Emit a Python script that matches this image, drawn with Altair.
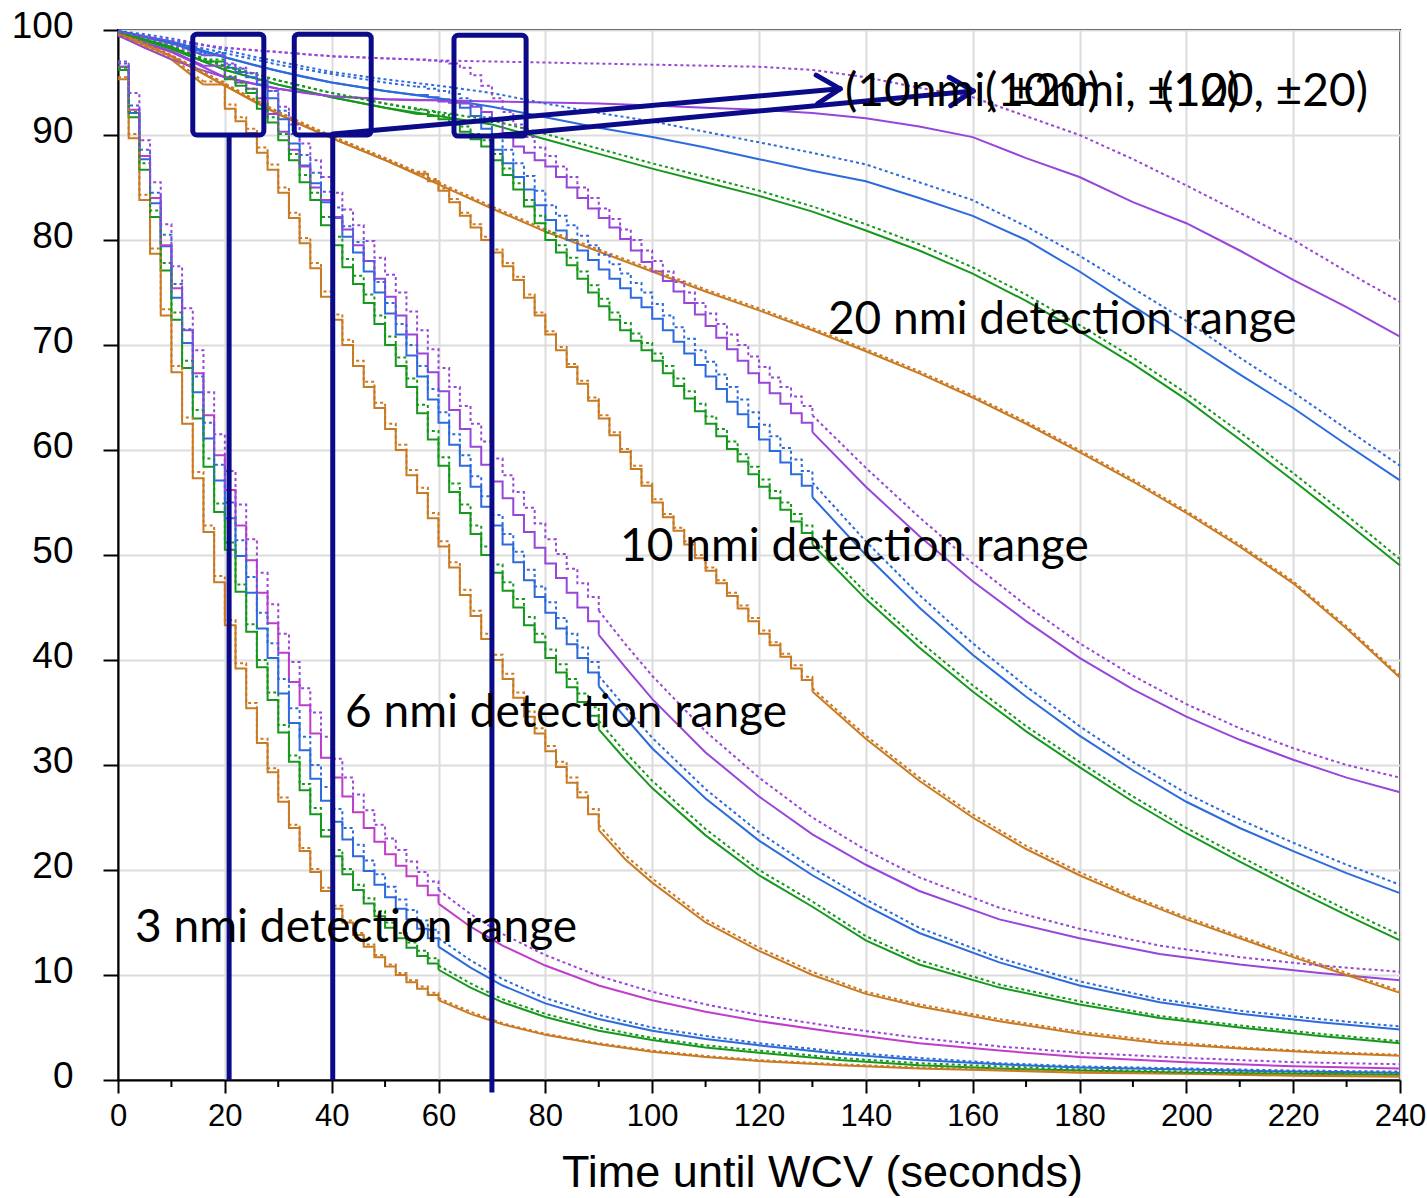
import altair as alt
import pandas as pd

# ---------------------------------------------------------------------------
# Survival curves: percent of encounters still free of WCV versus time,
# for four detection ranges, four colours (surveillance variants),
# each as a solid and a dotted series.
# ---------------------------------------------------------------------------

ORANGE = "#c97a22"
GREEN = "#16981c"
BLUE = "#2c6bdb"
PURPLE = "#9845da"
MAGENTA = "#bf3dca"
NAVY = "#0b0b8a"

# ---- 3 nmi detection range -------------------------------------------------
T3 = [0, 2, 4, 6, 8, 10, 12, 14, 16, 18, 20, 22, 24, 26, 28, 30, 32, 34, 36, 38, 40,
      42, 44, 46, 48, 50, 52, 54, 56, 58, 60,
      66, 72, 80, 90, 100, 110, 120, 135, 150, 165, 180, 200, 220, 240]
O3 = [95.3, 89.7, 83.8, 78.7, 72.8, 67.4, 62.5, 57.3, 52.2, 47.4, 43.3, 39.2, 35.4, 32.1, 29.3, 26.5, 24.0, 21.8, 19.8, 18.0, 16.3,
      15.0, 13.8, 12.7, 11.7, 10.8, 10.0, 9.3, 8.7, 8.1, 7.6,
      6.3, 5.3, 4.3, 3.4, 2.7, 2.2, 1.8, 1.4, 1.1, 0.9, 0.7, 0.6, 0.4, 0.3]
O3_DOT = [95.5, 90.1, 84.3, 79.2, 73.4, 68.0, 63.1, 57.9, 52.8, 48.0, 43.8, 39.7, 35.9, 32.5, 29.7, 26.9, 24.3, 22.1, 20.1, 18.3, 16.6,
          15.2, 14.0, 12.9, 11.9, 11.0, 10.2, 9.5, 8.9, 8.3, 7.8,
          6.5, 5.4, 4.4, 3.5, 2.8, 2.3, 1.9, 1.5, 1.2, 1.0, 0.8, 0.6, 0.5, 0.4]
G3 = [96.2, 91.7, 86.7, 82.2, 77.1, 72.4, 67.8, 63.0, 58.4, 54.1, 50.5, 46.5, 42.7, 39.3, 36.2, 33.1, 30.3, 27.6, 25.3, 23.2, 21.3,
      19.6, 18.1, 16.8, 15.6, 14.5, 13.5, 12.6, 11.8, 11.1, 10.5,
      8.8, 7.4, 6.0, 4.7, 3.8, 3.1, 2.6, 1.9, 1.4, 1.1, 0.9, 0.7, 0.6, 0.5]
G3_DOT = [96.4, 92.2, 87.3, 82.8, 77.8, 73.1, 68.5, 63.8, 59.2, 54.9, 51.2, 47.2, 43.4, 40.0, 36.9, 33.8, 30.9, 28.2, 25.9, 23.8, 21.9,
          20.1, 18.6, 17.3, 16.1, 15.0, 14.0, 13.1, 12.3, 11.6, 10.9,
          9.2, 7.7, 6.3, 5.0, 4.0, 3.3, 2.8, 2.1, 1.6, 1.3, 1.0, 0.8, 0.7, 0.6]
B3 = [96.5, 92.1, 87.7, 83.5, 79.4, 74.5, 70.2, 65.5, 61.1, 57.1, 53.5, 49.9, 46.4, 43.0, 40.2, 36.8, 34.0, 31.4, 28.7, 26.6, 24.6,
      22.9, 21.3, 19.9, 18.6, 17.4, 16.3, 15.3, 14.4, 13.5, 12.7,
      10.7, 9.0, 7.3, 5.8, 4.7, 3.9, 3.3, 2.5, 1.9, 1.5, 1.2, 1.0, 0.8, 0.7]
B3_DOT = [96.8, 92.8, 88.6, 84.5, 80.5, 75.8, 71.5, 67.0, 62.6, 58.6, 55.0, 51.4, 47.9, 44.5, 41.6, 38.2, 35.4, 32.7, 30.0, 27.9, 25.8,
          24.0, 22.4, 20.9, 19.6, 18.4, 17.2, 16.2, 15.2, 14.3, 13.5,
          11.4, 9.6, 7.8, 6.2, 5.0, 4.2, 3.5, 2.7, 2.1, 1.6, 1.3, 1.1, 0.9, 0.8]
P3 = [96.5, 92.4, 88.0, 84.0, 79.5, 75.4, 71.4, 67.3, 63.3, 59.5, 56.2, 52.8, 49.5, 46.4, 43.5, 40.7, 37.9, 35.7, 33.0, 30.7, 28.8,
      27.0, 25.5, 24.0, 22.7, 21.5, 20.4, 19.4, 18.5, 17.6, 16.8,
      14.6, 12.8, 10.9, 9.0, 7.6, 6.5, 5.6, 4.5, 3.5, 2.8, 2.2, 1.7, 1.3, 1.1]
P3_DOT = [97.0, 94.0, 89.5, 85.5, 81.5, 77.5, 73.5, 69.5, 65.5, 61.5, 58.0, 54.8, 51.5, 48.3, 45.3, 42.5, 39.8, 37.3, 35.0, 32.7, 30.6,
          28.8, 27.2, 25.7, 24.3, 23.0, 21.9, 20.8, 19.8, 18.9, 18.1,
          15.8, 13.9, 11.9, 9.9, 8.4, 7.2, 6.2, 5.0, 4.0, 3.2, 2.6, 2.1, 1.7, 1.5]

# ---- 6 nmi detection range -------------------------------------------------
T6 = [0, 10, 16,
      20, 22, 24, 26, 28, 30, 32, 34, 36, 38, 40, 42, 44, 46, 48, 50, 52, 54, 56, 58,
      60, 62, 64, 66, 68, 70, 72, 74, 76, 78, 80, 82, 84, 86, 88, 90,
      95, 100, 110, 120, 130, 140, 150, 165, 180, 195, 210, 225, 240]
O6 = [99.5, 97.2, 94.8,
      92.5, 91.3, 90.2, 88.3, 86.7, 84.5, 82.1, 79.7, 77.3, 74.6, 72.4, 70.0, 68.0, 66.0, 64.0, 62.0, 60.0, 57.6, 55.9, 53.5,
      50.8, 48.8, 46.2, 44.2, 42.0, 40.0, 38.2, 36.4, 34.6, 33.0, 31.3, 29.8, 28.3, 26.9, 25.3, 23.8,
      21.0, 18.8, 15.0, 12.3, 10.0, 8.2, 7.0, 5.6, 4.4, 3.5, 3.0, 2.6, 2.3]
O6_DOT = [99.6, 97.4, 95.1,
          92.9, 91.7, 90.6, 88.8, 87.2, 85.0, 82.6, 80.2, 77.8, 75.1, 72.9, 70.5, 68.5, 66.5, 64.5, 62.5, 60.5, 58.1, 56.4, 54.0,
          51.3, 49.3, 46.7, 44.7, 42.5, 40.5, 38.7, 36.9, 35.1, 33.5, 31.8, 30.3, 28.8, 27.4, 25.8, 24.3,
          21.4, 19.2, 15.3, 12.6, 10.3, 8.4, 7.2, 5.8, 4.6, 3.7, 3.1, 2.7, 2.4]
G6 = [99.8, 98.4, 97.0,
      95.3, 94.7, 94.0, 92.5, 91.2, 89.5, 87.6, 85.5, 83.8, 81.4, 79.5, 77.4, 75.8, 74.0, 72.0, 70.0, 68.0, 66.0, 63.5, 61.0,
      58.5, 56.0, 54.0, 52.0, 50.0, 48.3, 46.6, 45.0, 43.3, 41.7, 40.2, 38.8, 37.4, 36.0, 34.7, 33.4,
      30.5, 27.8, 23.3, 19.5, 16.5, 13.3, 11.0, 8.8, 7.2, 5.9, 5.0, 4.2, 3.5]
G6_DOT = [99.8, 98.5, 97.2,
          95.6, 95.0, 94.4, 93.0, 91.7, 90.1, 88.2, 86.2, 84.5, 82.2, 80.3, 78.2, 76.6, 74.8, 72.8, 70.8, 68.8, 66.8, 64.3, 61.8,
          59.3, 56.8, 54.8, 52.8, 50.8, 49.1, 47.4, 45.8, 44.1, 42.5, 41.0, 39.6, 38.2, 36.8, 35.5, 34.2,
          31.2, 28.5, 23.9, 20.0, 17.0, 13.7, 11.4, 9.1, 7.5, 6.1, 5.2, 4.4, 3.7]
B6 = [99.9, 98.8, 97.6,
      96.4, 96.0, 95.5, 94.8, 93.5, 91.5, 89.2, 87.1, 85.4, 83.6, 82.1, 80.3, 78.8, 77.0, 75.0, 73.0, 71.0, 69.0, 67.0, 64.8,
      62.6, 60.5, 58.5, 56.5, 54.6, 52.8, 51.0, 49.3, 47.6, 46.0, 44.5, 43.0, 41.5, 40.2, 38.8, 37.5,
      34.5, 31.6, 26.8, 22.8, 19.5, 16.6, 14.0, 11.2, 9.0, 7.4, 6.3, 5.5, 4.8]
B6_DOT = [99.9, 98.9, 97.8,
          96.7, 96.3, 95.9, 95.3, 94.2, 92.3, 90.1, 88.1, 86.4, 84.6, 83.1, 81.3, 79.8, 78.0, 76.0, 74.0, 72.0, 70.0, 68.0, 65.8,
          63.6, 61.5, 59.5, 57.5, 55.6, 53.8, 52.0, 50.3, 48.6, 47.0, 45.5, 44.0, 42.5, 41.2, 39.8, 38.5,
          35.5, 32.6, 27.7, 23.6, 20.2, 17.2, 14.5, 11.6, 9.4, 7.7, 6.6, 5.8, 5.1]
P6 = [99.6, 98.0, 96.6,
      95.5, 95.0, 94.4, 93.5, 92.0, 90.3, 88.6, 87.0, 85.0, 83.8, 82.2, 81.0, 79.5, 78.0, 76.3, 74.6, 72.8, 71.0, 69.2, 67.4,
      65.6, 63.8, 62.0, 60.3, 58.6, 57.0, 55.4, 53.8, 52.2, 50.7, 49.2, 47.8, 46.4, 45.0, 43.7, 42.4,
      39.3, 36.3, 31.2, 27.0, 23.4, 20.5, 18.0, 15.3, 13.5, 12.0, 11.0, 10.2, 9.5]
P6_DOT = [99.8, 98.6, 97.6,
          96.8, 96.4, 95.9, 95.2, 94.2, 92.7, 91.0, 89.2, 87.6, 86.0, 84.5, 82.9, 81.4, 79.9, 78.3, 76.7, 75.0, 73.2, 71.4, 69.6,
          67.8, 66.0, 64.2, 62.5, 60.8, 59.2, 57.6, 56.0, 54.5, 53.0, 51.5, 50.1, 48.7, 47.3, 46.0, 44.7,
          41.5, 38.5, 33.2, 28.8, 25.0, 21.9, 19.3, 16.4, 14.4, 12.8, 11.7, 10.9, 10.3]

# ---- 10 nmi detection range ------------------------------------------------
T10 = [0, 10, 20, 30, 40, 50,
       56, 58, 60, 62, 64, 66, 68, 70, 72, 74, 76, 78, 80, 82, 84, 86, 88, 90, 92, 94,
       96, 98, 100, 102, 104, 106, 108, 110, 112, 114, 116, 118, 120, 122, 124, 126, 128, 130,
       140, 150, 160, 170, 180, 190, 200, 210, 220, 230, 240]
O10 = [99.7, 97.5, 94.7, 92.0, 89.7, 87.6,
       86.3, 85.6, 84.7, 83.6, 82.3, 81.2, 80.0, 78.8, 77.5, 76.2, 74.5, 72.8, 71.0, 69.5, 67.9, 66.3, 64.7, 63.0, 61.4, 59.8,
       58.2, 56.6, 55.0, 53.6, 52.3, 51.0, 49.7, 48.5, 47.3, 46.1, 44.9, 43.7, 42.5, 41.4, 40.3, 39.2, 38.1, 37.0,
       32.5, 28.5, 25.0, 22.0, 19.5, 17.3, 15.3, 13.5, 11.7, 10.0, 8.3]
O10_DOT = [99.8, 97.6, 94.9, 92.2, 89.9, 87.8,
           86.5, 85.8, 84.9, 83.9, 82.6, 81.5, 80.3, 79.1, 77.8, 76.5, 74.8, 73.1, 71.3, 69.8, 68.2, 66.6, 65.0, 63.3, 61.7, 60.1,
           58.5, 56.9, 55.3, 53.9, 52.6, 51.3, 50.0, 48.8, 47.6, 46.4, 45.2, 44.0, 42.8, 41.7, 40.6, 39.5, 38.4, 37.3,
           32.8, 28.8, 25.3, 22.3, 19.8, 17.5, 15.5, 13.7, 11.9, 10.2, 8.5]
G10 = [99.8, 98.2, 96.2, 94.8, 93.6, 92.6,
       92.0, 91.8, 91.5, 91.0, 90.3, 89.6, 88.9, 87.6, 86.2, 84.8, 83.2, 81.6, 80.0, 78.8, 77.6, 76.3, 75.0, 73.7, 72.4, 71.4,
       70.4, 69.5, 68.5, 67.3, 66.1, 64.9, 63.7, 62.5, 61.3, 60.1, 58.9, 57.7, 56.5, 55.4, 54.3, 53.2, 52.1, 51.0,
       45.8, 41.2, 37.0, 33.2, 29.8, 26.5, 23.5, 20.8, 18.2, 15.7, 13.3]
G10_DOT = [99.8, 98.3, 96.5, 95.2, 94.0, 93.0,
           92.4, 92.2, 91.9, 91.5, 90.8, 90.1, 89.5, 88.2, 86.8, 85.4, 83.8, 82.3, 80.7, 79.5, 78.3, 77.0, 75.7, 74.4, 73.1, 72.1,
           71.1, 70.2, 69.2, 68.0, 66.8, 65.6, 64.4, 63.2, 62.0, 60.8, 59.6, 58.4, 57.2, 56.1, 55.0, 53.9, 52.8, 51.7,
           46.4, 41.8, 37.6, 33.7, 30.3, 27.0, 24.0, 21.3, 18.7, 16.2, 13.8]
B10 = [99.9, 98.7, 97.4, 96.1, 95.0, 94.2,
       93.8, 93.6, 93.4, 93.1, 92.6, 91.8, 90.6, 88.6, 87.3, 86.0, 84.8, 83.3, 81.9, 80.9, 80.0, 79.0, 78.1, 77.2, 76.3, 75.4,
       74.5, 73.6, 72.5, 71.4, 70.3, 69.2, 68.1, 67.0, 65.8, 64.6, 63.4, 62.2, 61.0, 59.9, 58.8, 57.7, 56.6, 55.5,
       50.0, 45.0, 40.5, 36.5, 32.8, 29.5, 26.5, 24.0, 21.8, 19.7, 17.8]
B10_DOT = [99.9, 98.9, 97.8, 96.7, 95.8, 95.0,
           94.6, 94.4, 94.2, 93.9, 93.5, 92.8, 91.7, 89.9, 88.6, 87.3, 86.1, 84.7, 83.3, 82.3, 81.4, 80.4, 79.5, 78.6, 77.7, 76.8,
           75.9, 75.0, 73.9, 72.8, 71.7, 70.6, 69.5, 68.4, 67.2, 66.0, 64.8, 63.6, 62.4, 61.3, 60.2, 59.1, 58.0, 56.9,
           51.3, 46.2, 41.6, 37.5, 33.7, 30.3, 27.3, 24.8, 22.6, 20.5, 18.6]
P10 = [99.5, 97.9, 95.5, 94.4, 93.7, 93.4,
       93.3, 93.3, 93.2, 93.1, 93.0, 92.7, 92.2, 91.4, 90.2, 88.9, 88.3, 87.6, 87.0, 86.0, 85.0, 84.0, 83.0, 82.1, 81.2, 80.1,
       79.0, 77.9, 77.0, 76.1, 75.1, 74.0, 72.9, 71.8, 70.7, 69.6, 68.5, 67.3, 66.4, 65.4, 64.4, 63.5, 62.6, 61.7,
       56.5, 51.8, 47.5, 43.7, 40.2, 37.2, 34.6, 32.4, 30.5, 28.8, 27.4]
P10_DOT = [99.8, 99.0, 98.3, 97.9, 97.5, 97.3,
           97.2, 97.1, 97.0, 96.8, 96.4, 95.7, 94.7, 93.5, 92.2, 91.0, 89.8, 88.8, 88.0, 87.0, 86.0, 85.0, 84.0, 83.0, 82.0, 81.0,
           80.0, 79.0, 78.0, 77.0, 76.0, 75.0, 74.0, 73.0, 72.0, 71.0, 70.0, 68.9, 67.9, 66.9, 66.0, 65.1, 64.2, 63.3,
           58.3, 53.6, 49.2, 45.2, 41.6, 38.5, 35.8, 33.5, 31.6, 30.0, 28.8]

# ---- 20 nmi detection range ------------------------------------------------
T20 = [0, 5, 10, 15, 20, 25, 30, 35, 40, 50, 60, 70, 80, 90, 100, 110, 120, 130, 140,
       150, 160, 170, 180, 190, 200, 210, 220, 230, 240]
O20 = [99.7, 98.6, 97.5, 96.1, 94.7, 93.3, 92.0, 90.8, 89.7, 87.6, 85.3, 83.0, 80.8, 78.9, 77.0, 75.1, 73.3, 71.4, 69.4,
       67.3, 65.0, 62.5, 59.8, 57.0, 54.0, 50.8, 47.3, 43.0, 38.3]
O20_DOT = [99.8, 98.7, 97.6, 96.3, 94.9, 93.5, 92.2, 91.0, 89.9, 87.8, 85.5, 83.2, 81.0, 79.1, 77.2, 75.3, 73.5, 71.6, 69.6,
           67.5, 65.2, 62.7, 60.0, 57.2, 54.2, 51.0, 47.5, 43.2, 38.5]
G20 = [99.8, 99.0, 98.2, 97.2, 96.2, 95.5, 94.8, 94.2, 93.6, 92.6, 91.8, 91.0, 89.6, 88.2, 86.8, 85.5, 84.2, 82.7, 80.9,
       79.0, 76.8, 74.2, 71.3, 68.2, 64.8, 61.0, 57.1, 53.1, 49.0]
G20_DOT = [99.8, 99.1, 98.4, 97.5, 96.6, 95.9, 95.2, 94.6, 94.0, 93.0, 92.2, 91.4, 90.1, 88.7, 87.3, 86.0, 84.7, 83.2, 81.5,
           79.6, 77.4, 74.8, 71.9, 68.8, 65.4, 61.7, 57.8, 53.8, 49.6]
B20 = [99.9, 99.4, 98.9, 98.2, 97.4, 96.7, 96.1, 95.5, 95.0, 94.2, 93.5, 92.7, 91.7, 90.7, 89.8, 88.8, 87.7, 86.6, 85.6,
       84.0, 82.3, 80.0, 77.0, 73.7, 70.5, 67.2, 64.0, 60.5, 57.1]
B20_DOT = [99.9, 99.6, 99.2, 98.7, 98.1, 97.5, 97.0, 96.5, 96.0, 95.3, 94.7, 94.0, 93.0, 92.1, 91.3, 90.3, 89.3, 88.3, 87.2,
           85.5, 83.8, 81.3, 78.5, 75.4, 72.3, 68.8, 65.5, 62.0, 58.5]
P20 = [99.5, 98.3, 97.2, 96.3, 95.5, 94.9, 94.4, 94.0, 93.7, 93.4, 93.3, 93.2, 93.1, 93.0, 92.8, 92.6, 92.4, 92.1, 91.6,
       90.8, 89.8, 87.8, 86.0, 83.6, 81.6, 79.0, 76.2, 73.6, 70.8]
P20_DOT = [99.8, 99.4, 99.0, 98.6, 98.3, 98.1, 97.9, 97.7, 97.5, 97.3, 97.1, 97.0, 96.9, 96.8, 96.7, 96.6, 96.5, 96.2, 95.5,
           94.5, 93.6, 91.8, 90.0, 87.7, 85.2, 82.6, 80.0, 77.0, 74.1]

# group name, times, time window drawn as a staircase (None = smooth), series
GROUPS = [
    ("3nmi", T3, (0, 60), [
        (ORANGE, "solid", O3), (ORANGE, "dot", O3_DOT),
        (GREEN, "solid", G3), (GREEN, "dot", G3_DOT),
        (BLUE, "solid", B3), (BLUE, "dot", B3_DOT),
        (MAGENTA, "solid", P3), (PURPLE, "dot", P3_DOT)]),
    ("6nmi", T6, (16, 90), [
        (ORANGE, "solid", O6), (ORANGE, "dot", O6_DOT),
        (GREEN, "solid", G6), (GREEN, "dot", G6_DOT),
        (BLUE, "solid", B6), (BLUE, "dot", B6_DOT),
        (PURPLE, "solid", P6), (PURPLE, "dot", P6_DOT)]),
    ("10nmi", T10, (56, 130), [
        (ORANGE, "solid", O10), (ORANGE, "dot", O10_DOT),
        (GREEN, "solid", G10), (GREEN, "dot", G10_DOT),
        (BLUE, "solid", B10), (BLUE, "dot", B10_DOT),
        (PURPLE, "solid", P10), (PURPLE, "dot", P10_DOT)]),
    ("20nmi", T20, None, [
        (ORANGE, "solid", O20), (ORANGE, "dot", O20_DOT),
        (GREEN, "solid", G20), (GREEN, "dot", G20_DOT),
        (BLUE, "solid", B20), (BLUE, "dot", B20_DOT),
        (PURPLE, "solid", P20), (PURPLE, "dot", P20_DOT)]),
]

step_rows, smooth_rows = [], []
for gname, times, window, series in GROUPS:
    for k, (col, style, vals) in enumerate(series):
        assert len(vals) == len(times), (gname, k)
        sid = f"{gname}-{k}"
        for t, v in zip(times, vals):
            if window is not None and window[0] <= t <= window[1]:
                step_rows.append(dict(t=t, v=v, col=col, style=style, sid=sid))
            if window is None or t <= window[0] or t >= window[1]:
                seg = 0 if (window is not None and t <= window[0]) else 1
                smooth_rows.append(dict(t=t, v=v, col=col, style=style, sid=f"{sid}-{seg}"))
step_df = pd.DataFrame(step_rows)
smooth_df = pd.DataFrame(smooth_rows)

# ---- annotation geometry (data units) ----------------------------------------
BOX_T0 = [14.0, 33.0, 62.9]
BOX_T1 = [27.3, 47.4, 76.4]
BOX_V_TOP = [99.6, 99.6, 99.5]
BOX_V_BOTTOM = [90.0, 90.0, 89.9]
MARKER_T = [20.8, 40.2, 70.0]
MARKER_V_TOP = [89.8, 89.8, 89.7]
MARKER_V_BOTTOM = [0.0, 0.0, -1.2]
ARROW_T0 = [40.2, 70.0]
ARROW_V0 = [90.1, 89.9]
ARROW_T1 = [135.2, 160.1]
ARROW_V1 = [94.4, 94.2]
HEAD_T = [130.7, 131.0, 155.6, 155.9]
HEAD_V = [95.7, 93.0, 95.5, 92.8]
HEAD_TIP_T = [135.2, 135.2, 160.1, 160.1]
HEAD_TIP_V = [94.4, 94.4, 94.2, 94.2]

RANGE_LABELS = ["3 nmi detection range", "6 nmi detection range",
                "10 nmi detection range", "20 nmi detection range"]
RANGE_LABEL_T = [3.2, 42.5, 94.0, 132.9]
RANGE_LABEL_V = [14.5, 35.0, 50.8, 72.4]

CASE_LABELS = ["(10nmi, ±20)", "(10nmi, ±10)"]
CASE_LABEL_T = [136.1, 162.3]
CASE_LABEL_V = [94.1, 94.1]
CASE_LABEL_END = ["(120, ±20)"]
CASE_LABEL_END_T = [234.0]
CASE_LABEL_END_V = [94.1]

MINOR_T = list(range(10, 240, 20))

# ---- chart -------------------------------------------------------------------
xs = alt.Scale(domain=[0, 240], nice=False, zero=False)
ys = alt.Scale(domain=[0, 100], nice=False, zero=False)

X_AXIS = alt.Axis(values=list(range(0, 241, 20)), title="Time until WCV (seconds)",
                  titleFont="Liberation Sans", titleFontSize=45, titleFontWeight="normal",
                  titleColor="black", titleX=704, titleY=106, titleAlign="center",
                  titleBaseline="alphabetic",
                  labelFont="Liberation Sans", labelFontSize=31, labelColor="black",
                  labelPadding=8, labelFlush=False,
                  tickSize=13, tickWidth=2, tickColor="black",
                  domainColor="black", domainWidth=2,
                  grid=True, gridColor="#dcdcdc", gridWidth=2)
Y_AXIS = alt.Axis(values=list(range(0, 101, 10)), title=None,
                  labelFont="Liberation Sans", labelFontSize=37, labelColor="black",
                  labelPadding=30, labelOffset=-4, labelFlush=False,
                  tickSize=15, tickWidth=2, tickColor="black",
                  domainColor="black", domainWidth=2,
                  grid=True, gridColor="#dcdcdc", gridWidth=2)


def xq(field):
    return alt.X(field, type="quantitative", scale=xs, axis=X_AXIS, title="Time until WCV (seconds)")


def yq(field):
    return alt.Y(field, type="quantitative", scale=ys, axis=Y_AXIS, title=None)


def curve_layer(df, style, interp):
    sub = df[df["style"] == style]
    kw = dict(interpolate=interp, strokeWidth=2)
    if style == "dot":
        kw["strokeDash"] = [3, 3]
    return alt.Chart(sub).mark_line(**kw).encode(
        x=xq("t"), y=yq("v"),
        color=alt.Color("col:N", scale=None),
        detail="sid:N",
    )


layers = [
    curve_layer(smooth_df, "solid", "linear"),
    curve_layer(step_df, "solid", "step-after"),
    curve_layer(smooth_df, "dot", "linear"),
    curve_layer(step_df, "dot", "step-after"),
]

minor = alt.Chart(pd.DataFrame({"t": MINOR_T})).mark_rule(color="black", strokeWidth=2).encode(
    x=xq("t"), y=alt.value(1050), y2=alt.value(1057))

boxes = alt.Chart(pd.DataFrame({"t": BOX_T0, "t1": BOX_T1, "v": BOX_V_BOTTOM, "v1": BOX_V_TOP})).mark_rect(
    filled=False, stroke=NAVY, strokeWidth=5, cornerRadius=4).encode(
    x=xq("t"), x2="t1:Q", y=yq("v"), y2="v1:Q")

markers = alt.Chart(pd.DataFrame({"t": MARKER_T, "v": MARKER_V_BOTTOM, "v1": MARKER_V_TOP})).mark_rule(
    color=NAVY, strokeWidth=5).encode(
    x=xq("t"), y=yq("v"), y2="v1:Q")

arrows = alt.Chart(pd.DataFrame({"t": ARROW_T0, "v": ARROW_V0, "t1": ARROW_T1, "v1": ARROW_V1})).mark_rule(
    color=NAVY, strokeWidth=5, strokeCap="round").encode(
    x=xq("t"), x2="t1:Q", y=yq("v"), y2="v1:Q")

heads = alt.Chart(pd.DataFrame({"t": HEAD_T, "v": HEAD_V, "t1": HEAD_TIP_T, "v1": HEAD_TIP_V})).mark_rule(
    color=NAVY, strokeWidth=5, strokeCap="round").encode(
    x=xq("t"), x2="t1:Q", y=yq("v"), y2="v1:Q")

range_text = alt.Chart(pd.DataFrame({"t": RANGE_LABEL_T, "v": RANGE_LABEL_V, "label": RANGE_LABELS})).mark_text(
    font="Lato", fontSize=46, align="left", baseline="middle", color="black").encode(
    x=xq("t"), y=yq("v"), text="label:N")

case_text = alt.Chart(pd.DataFrame({"t": CASE_LABEL_T, "v": CASE_LABEL_V, "label": CASE_LABELS})).mark_text(
    font="Lato", fontSize=46, align="left", baseline="middle", color="black").encode(
    x=xq("t"), y=yq("v"), text="label:N")

case_text_end = alt.Chart(pd.DataFrame({"t": CASE_LABEL_END_T, "v": CASE_LABEL_END_V, "label": CASE_LABEL_END})).mark_text(
    font="Lato", fontSize=46, align="right", baseline="middle", color="black").encode(
    x=xq("t"), y=yq("v"), text="label:N")

chart = alt.layer(
    *layers, minor, boxes, markers, arrows, heads, range_text, case_text, case_text_end
).properties(
    width=1282, height=1050,
    padding={"left": 118, "top": 30, "right": 27, "bottom": 118},
    autosize=alt.AutoSizeParams(type="none"),
    background="white",
).configure_view(stroke="black", strokeWidth=2)

chart.save("out.html", embed_options={"renderer": "svg", "actions": False})
